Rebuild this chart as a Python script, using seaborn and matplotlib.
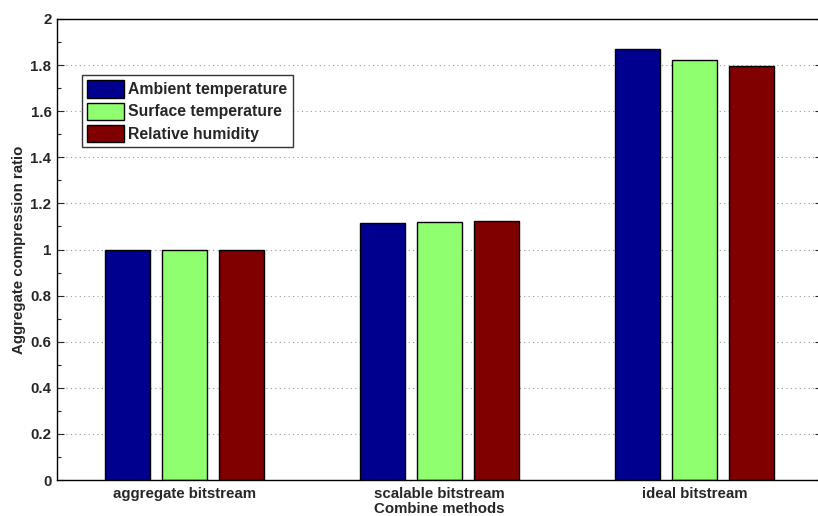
import matplotlib
matplotlib.use("Agg")
import matplotlib.pyplot as plt
import seaborn as sns
import pandas as pd
from matplotlib.ticker import MultipleLocator

methods = ["aggregate bitstream", "scalable bitstream", "ideal bitstream"]
series = ["Ambient temperature", "Surface temperature", "Relative humidity"]
ambient = [1.0, 1.116, 1.870]
surface = [1.0, 1.119, 1.824]
humidity = [1.0, 1.124, 1.798]
colors = ["#00008F", "#8FFF70", "#800000"]

rows = []
for s, vals in zip(series, [ambient, surface, humidity]):
    for m, v in zip(methods, vals):
        rows.append({"method": m, "series": s, "value": v})
df = pd.DataFrame(rows)

sns.set_style("white")
plt.rcParams["font.family"] = ["Liberation Sans", "DejaVu Sans"]
plt.rcParams["font.weight"] = "bold"

fig = plt.figure(figsize=(8.18, 5.16), dpi=100)
L, R, T, B = 57, 822, 19, 480
ax = fig.add_axes([L / 818, 1 - B / 516, (R - L) / 818, (B - T) / 516])

sns.barplot(data=df, x="method", y="value", hue="series", order=methods,
            hue_order=series, palette=colors, width=0.67, gap=0.2,
            edgecolor="black", linewidth=1.0, ax=ax, errorbar=None, saturation=1)

ax.set_xlim(-0.5, 2.5)
ax.set_ylim(0, 2)
ax.yaxis.set_minor_locator(MultipleLocator(0.1))
ax.set_yticks([0, 0.2, 0.4, 0.6, 0.8, 1.0, 1.2, 1.4, 1.6, 1.8, 2.0])
ax.set_yticklabels(["0", "0.2", "0.4", "0.6", "0.8", "1", "1.2", "1.4", "1.6", "1.8", "2"])
ax.grid(axis="y", which="major", linestyle=(0, (1, 3)), color="#999999", linewidth=0.8)
ax.set_axisbelow(True)
for sp in ax.spines.values():
    sp.set_visible(True)
    sp.set_color("black")
    sp.set_linewidth(1.0)
ax.tick_params(axis="y", which="major", direction="in", length=5, width=0.8,
               labelsize=10.8, right=True, left=True, pad=4)
ax.tick_params(axis="y", which="minor", direction="in", length=3, width=0.8,
               right=True, left=True)
ax.tick_params(axis="x", which="major", direction="in", length=0, labelsize=10.8, pad=5)
for lbl in ax.get_xticklabels() + ax.get_yticklabels():
    lbl.set_fontweight("bold")

ax.set_xlabel("Combine methods", fontsize=10.8, fontweight="bold", labelpad=1)
ax.set_ylabel("Aggregate compression ratio", fontsize=10.8, fontweight="bold", labelpad=3)

leg = ax.legend(loc="upper left", bbox_to_anchor=(25 / (R - L), 1 - 56 / (B - T)),
                frameon=True, fancybox=False, edgecolor="black",
                prop={"size": 11.3, "weight": "bold"}, handlelength=2.3,
                handleheight=1.3, handletextpad=0.3, borderpad=0.35,
                labelspacing=0.32, borderaxespad=0)
leg.get_frame().set_linewidth(1.0)

fig.savefig("out.png", dpi=100)
